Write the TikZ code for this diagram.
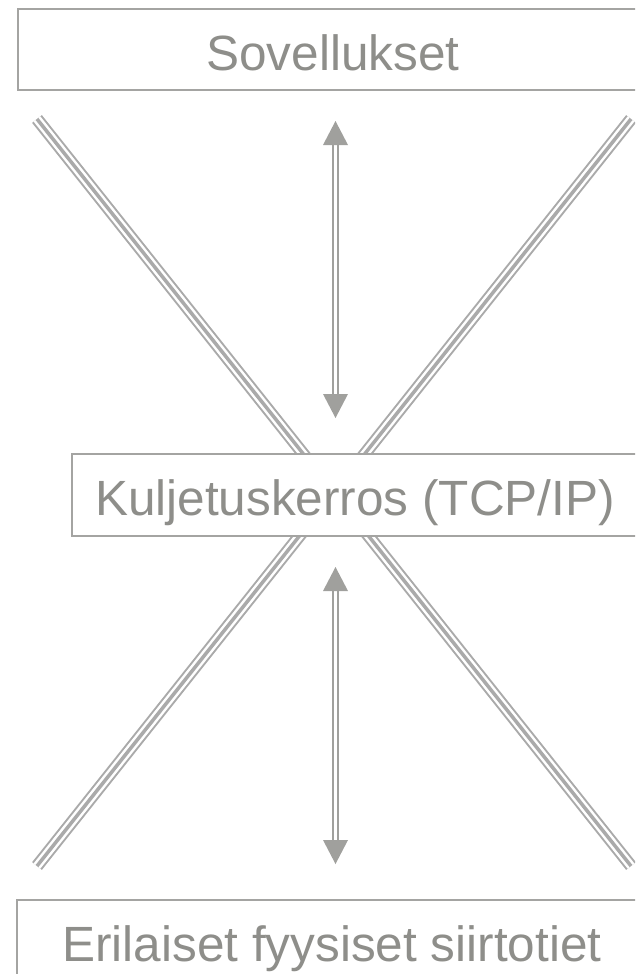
\documentclass[tikz,border=0pt]{standalone}
\usepackage{fontspec}
\setmainfont{Liberation Sans}
\usetikzlibrary{calc}
\definecolor{boxgray}{HTML}{A4A4A2}
\definecolor{textgray}{HTML}{8E8E8A}
\definecolor{linegray}{HTML}{AAAAAA}
\definecolor{arrowgray}{HTML}{A0A09D}
\begin{document}
\begin{tikzpicture}[x=1pt,y=-1pt,
  layerbox/.style={draw=boxgray, line width=2pt, fill=white,
    font=\fontsize{49.5}{59}\selectfont, text=textgray,
    text height=41.4pt, text depth=0pt, inner sep=0pt},
  shaft/.style={draw=arrowgray, line width=2.5pt, double=white, double distance=2.5pt},
  headfill/.style={fill=arrowgray}]
\useasboundingbox (0,0) rectangle (635,974);
\clip (0,0) rectangle (635,974);
% diagonal triple lines
\coordinate (tl) at (37,119);
\coordinate (tr) at (631,119);
\coordinate (bl) at (37,866);
\coordinate (br) at (631,866);
\foreach \a/\b in {tl/br, tr/bl} {
  \draw[linegray, line width=12.5pt] (\a) -- (\b);
  \draw[white, line width=8.5pt] (\a) -- (\b);
  \draw[linegray, line width=3.5pt] (\a) -- (\b);
}
% boxes
\node[layerbox, minimum width=630pt, minimum height=81pt] (app) at (333,49.5) {Sovellukset};
\node[layerbox, minimum width=566pt, minimum height=82pt] (tcp) at (355,494.5) {Kuljetuskerros (TCP/IP)};
\node[layerbox, minimum width=630pt, minimum height=82pt] (phy) at (332,941) {Erilaiset fyysiset siirtotiet};
% arrows
\coordinate (a1t) at (335.5,121);
\coordinate (a1b) at (335.5,418);
\coordinate (a2t) at (335.5,567);
\coordinate (a2b) at (335.5,864);
\foreach \t/\b in {a1t/a1b, a2t/a2b} {
  \draw[shaft] ($(\t)+(0,23)$) -- ($(\b)+(0,-23)$);
  \fill[headfill] (\t) -- ++(-12.5,24) -- ++(25,0) -- cycle;
  \fill[headfill] (\b) -- ++(-12.5,-24) -- ++(25,0) -- cycle;
}
\end{tikzpicture}
\end{document}
